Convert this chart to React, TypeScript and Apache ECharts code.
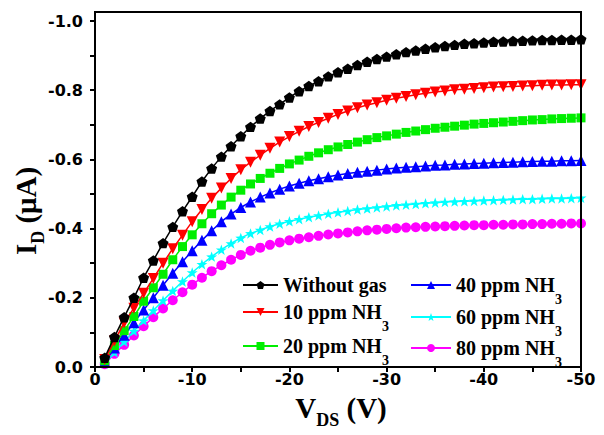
import React, { useEffect, useRef } from 'react';
import * as echarts from 'echarts';

const vds = [
  -1, -2, -3, -4, -5, -6, -7, -8, -9, -10,
  -11, -12, -13, -14, -15, -16, -17, -18, -19, -20,
  -21, -22, -23, -24, -25, -26, -27, -28, -29, -30,
  -31, -32, -33, -34, -35, -36, -37, -38, -39, -40,
  -41, -42, -43, -44, -45, -46, -47, -48, -49, -50,
];

const withoutGas = [
  -0.027, -0.087, -0.144, -0.200, -0.258, -0.308, -0.358, -0.405, -0.450, -0.492,
  -0.536, -0.574, -0.608, -0.638, -0.667, -0.694, -0.718, -0.740, -0.759, -0.779,
  -0.797, -0.812, -0.826, -0.840, -0.852, -0.862, -0.873, -0.882, -0.890, -0.897,
  -0.904, -0.910, -0.915, -0.920, -0.924, -0.928, -0.931, -0.934, -0.936, -0.938,
  -0.940, -0.941, -0.942, -0.943, -0.944, -0.945, -0.945, -0.946, -0.946, -0.947,
];

const ppm10 = [
  -0.022, -0.075, -0.128, -0.170, -0.213, -0.256, -0.300, -0.342, -0.381, -0.420,
  -0.455, -0.488, -0.517, -0.545, -0.570, -0.592, -0.612, -0.632, -0.650, -0.666,
  -0.681, -0.695, -0.707, -0.719, -0.730, -0.740, -0.749, -0.757, -0.764, -0.771,
  -0.777, -0.782, -0.787, -0.791, -0.795, -0.798, -0.801, -0.803, -0.805, -0.807,
  -0.809, -0.810, -0.811, -0.812, -0.813, -0.814, -0.815, -0.815, -0.816, -0.816,
];

const ppm20 = [
  -0.018, -0.062, -0.105, -0.146, -0.190, -0.229, -0.268, -0.310, -0.348, -0.382,
  -0.414, -0.443, -0.468, -0.491, -0.511, -0.529, -0.545, -0.560, -0.574, -0.587,
  -0.598, -0.609, -0.619, -0.628, -0.636, -0.643, -0.650, -0.657, -0.663, -0.668,
  -0.673, -0.678, -0.682, -0.686, -0.690, -0.693, -0.696, -0.699, -0.702, -0.704,
  -0.706, -0.708, -0.710, -0.712, -0.714, -0.715, -0.717, -0.718, -0.719, -0.720,
];

const ppm40 = [
  -0.015, -0.055, -0.092, -0.128, -0.165, -0.200, -0.236, -0.271, -0.304, -0.336,
  -0.366, -0.394, -0.420, -0.442, -0.461, -0.477, -0.491, -0.503, -0.514, -0.523,
  -0.531, -0.538, -0.544, -0.550, -0.555, -0.559, -0.563, -0.566, -0.569, -0.572,
  -0.575, -0.577, -0.579, -0.581, -0.583, -0.584, -0.586, -0.587, -0.588, -0.589,
  -0.590, -0.591, -0.592, -0.593, -0.594, -0.595, -0.595, -0.596, -0.596, -0.597,
];

const ppm60 = [
  -0.010, -0.042, -0.073, -0.104, -0.134, -0.163, -0.192, -0.220, -0.247, -0.273,
  -0.297, -0.319, -0.339, -0.357, -0.373, -0.386, -0.396, -0.406, -0.414, -0.421,
  -0.427, -0.433, -0.438, -0.443, -0.447, -0.451, -0.455, -0.458, -0.461, -0.464,
  -0.467, -0.469, -0.471, -0.473, -0.475, -0.477, -0.478, -0.479, -0.480, -0.481,
  -0.482, -0.483, -0.484, -0.485, -0.485, -0.486, -0.487, -0.487, -0.488, -0.489,
];

const ppm80 = [
  -0.008, -0.038, -0.064, -0.091, -0.118, -0.144, -0.169, -0.193, -0.216, -0.238,
  -0.258, -0.277, -0.294, -0.310, -0.324, -0.336, -0.345, -0.353, -0.360, -0.366,
  -0.371, -0.375, -0.379, -0.383, -0.386, -0.389, -0.392, -0.395, -0.397, -0.399,
  -0.401, -0.403, -0.404, -0.405, -0.406, -0.407, -0.408, -0.409, -0.410, -0.410,
  -0.411, -0.411, -0.412, -0.412, -0.413, -0.413, -0.414, -0.414, -0.415, -0.415,
];

const seriesNames = [
  'Without gas',
  '10 ppm NH3',
  '20 ppm NH3',
  '40 ppm NH3',
  '60 ppm NH3',
  '80 ppm NH3',
];
const seriesValues = [withoutGas, ppm10, ppm20, ppm40, ppm60, ppm80];
const seriesColors = ['#000000', '#ff0000', '#00ee00', '#0000ff', '#00ffff', '#ff00ff'];

const PENTAGON = 'path://M0,-10 L9.51,-3.09 L5.88,8.09 L-5.88,8.09 L-9.51,-3.09 Z';
const STAR =
  'path://M0,-10 L2.35,-3.24 L9.51,-3.09 L3.8,1.24 L5.88,8.09 L0,4 L-5.88,8.09 L-3.8,1.24 L-9.51,-3.09 L-2.35,-3.24 Z';
const seriesSymbols = [PENTAGON, 'triangle', 'rect', 'triangle', STAR, 'circle'];
const seriesSymbolRotate = [0, 180, 0, 0, 0, 0];
const seriesSymbolSize = [11, 11, 9, 11, 11, 10];

const SERIF = '"Liberation Serif", "Times New Roman", serif';
const SANS = '"DejaVu Sans", sans-serif';

const GRID = { left: 95, right: 23, top: 21, bottom: 68 };
const FRAME_TOP = 12;
const W = 604;
const H = 435;

// legend placement: [left, centerY, itemWidth]
const legendPlace = [
  [242, 285, 35],
  [242, 312, 35],
  [242, 346, 35],
  [410, 285, 40],
  [410, 317, 40],
  [410, 348, 40],
];

export default function App() {
  const ref = useRef<HTMLDivElement>(null);

  useEffect(() => {
    if (!ref.current) return;
    const chart = echarts.init(ref.current, null, { renderer: 'svg' });

    const legendLH = 42;
    const legends = seriesNames.map((name, i) => ({
      data: [name],
      left: legendPlace[i][0],
      top: legendPlace[i][1] - legendLH / 2,
      orient: 'vertical',
      padding: 0,
      itemGap: 0,
      itemWidth: legendPlace[i][2],
      itemHeight: 10,
      selectedMode: false,
      formatter: (n: string) => n.replace(/NH3$/, 'NH{s|3}'),
      textStyle: {
        fontFamily: SERIF,
        fontWeight: 'bold',
        fontSize: 20,
        color: '#000',
        lineHeight: legendLH,
        rich: {
          s: {
            fontFamily: SERIF,
            fontWeight: 'bold',
            fontSize: 14,
            color: '#000',
            lineHeight: 14,
            verticalAlign: 'bottom',
          },
        },
      },
    }));

    const series = seriesNames.map((name, i) => ({
      name,
      type: 'line',
      data: vds.map((v, k) => [v, seriesValues[i][k]]),
      symbol: seriesSymbols[i],
      symbolSize: seriesSymbolSize[i],
      symbolRotate: seriesSymbolRotate[i],
      symbolKeepAspect: true,
      showAllSymbol: true,
      clip: false,
      lineStyle: { color: seriesColors[i], width: 1.5 },
      itemStyle: { color: seriesColors[i], borderWidth: 0 },
      emphasis: { disabled: true },
      z: 10 - i,
    }));

    const plotW = W - GRID.left - GRID.right;
    const plotH = H - GRID.bottom - FRAME_TOP;
    const titleLH = 42;
    const titleRich = {
      m: { fontFamily: SERIF, fontWeight: 'bold', fontSize: 29, fill: '#000', lineHeight: titleLH },
      s: {
        fontFamily: SERIF,
        fontWeight: 'bold',
        fontSize: 18,
        fill: '#000',
        lineHeight: 18,
        verticalAlign: 'bottom',
      },
    };

    chart.setOption({
      animation: false,
      backgroundColor: '#ffffff',
      grid: { left: GRID.left, right: GRID.right, top: GRID.top, bottom: GRID.bottom },
      xAxis: {
        type: 'value',
        min: -50,
        max: 0,
        interval: 10,
        inverse: true,
        axisLine: { show: true, onZero: false, lineStyle: { color: '#000', width: 2 } },
        axisTick: { show: true, inside: false, length: 5, lineStyle: { color: '#000', width: 2 } },
        minorTick: { show: true, splitNumber: 2, length: 5, lineStyle: { color: '#000', width: 2 } },
        splitLine: { show: false },
        minorSplitLine: { show: false },
        axisLabel: {
          margin: 4,
          color: '#000',
          fontFamily: SANS,
          fontWeight: 'bold',
          fontSize: 16,
          formatter: (v: number) => String(Math.round(v)),
        },
      },
      yAxis: {
        type: 'value',
        min: -1,
        max: 0,
        interval: 0.2,
        inverse: true,
        axisLine: { show: true, onZero: false, lineStyle: { color: '#000', width: 2 } },
        axisTick: { show: true, inside: false, length: 5, lineStyle: { color: '#000', width: 2 } },
        minorTick: { show: true, splitNumber: 2, length: 5, lineStyle: { color: '#000', width: 2 } },
        splitLine: { show: false },
        minorSplitLine: { show: false },
        axisLabel: {
          margin: 12,
          color: '#000',
          fontFamily: SANS,
          fontWeight: 'bold',
          fontSize: 16,
          formatter: (v: number) => (Math.abs(v) < 1e-9 ? '0.0' : v.toFixed(1)),
        },
      },
      legend: legends,
      series,
      graphic: [
        {
          type: 'rect',
          z: 100,
          silent: true,
          shape: { x: GRID.left, y: FRAME_TOP, width: plotW, height: plotH },
          style: { fill: 'none', stroke: '#000', lineWidth: 2 },
        },
        {
          type: 'text',
          x: 341,
          y: 408,
          silent: true,
          style: {
            text: '{m|V}{s|DS}{m| (V)}',
            rich: titleRich,
            align: 'center',
            verticalAlign: 'middle',
          },
        },
        {
          type: 'text',
          x: 26,
          y: 211,
          rotation: Math.PI / 2,
          silent: true,
          style: {
            text: '{m|I}{s|D}{m| (μA)}',
            rich: titleRich,
            align: 'center',
            verticalAlign: 'middle',
          },
        },
      ],
    });

    return () => chart.dispose();
  }, []);

  return (
    <div
      ref={ref}
      style={{ position: 'fixed', left: 0, top: 0, width: W, height: H, background: '#fff' }}
    />
  );
}
